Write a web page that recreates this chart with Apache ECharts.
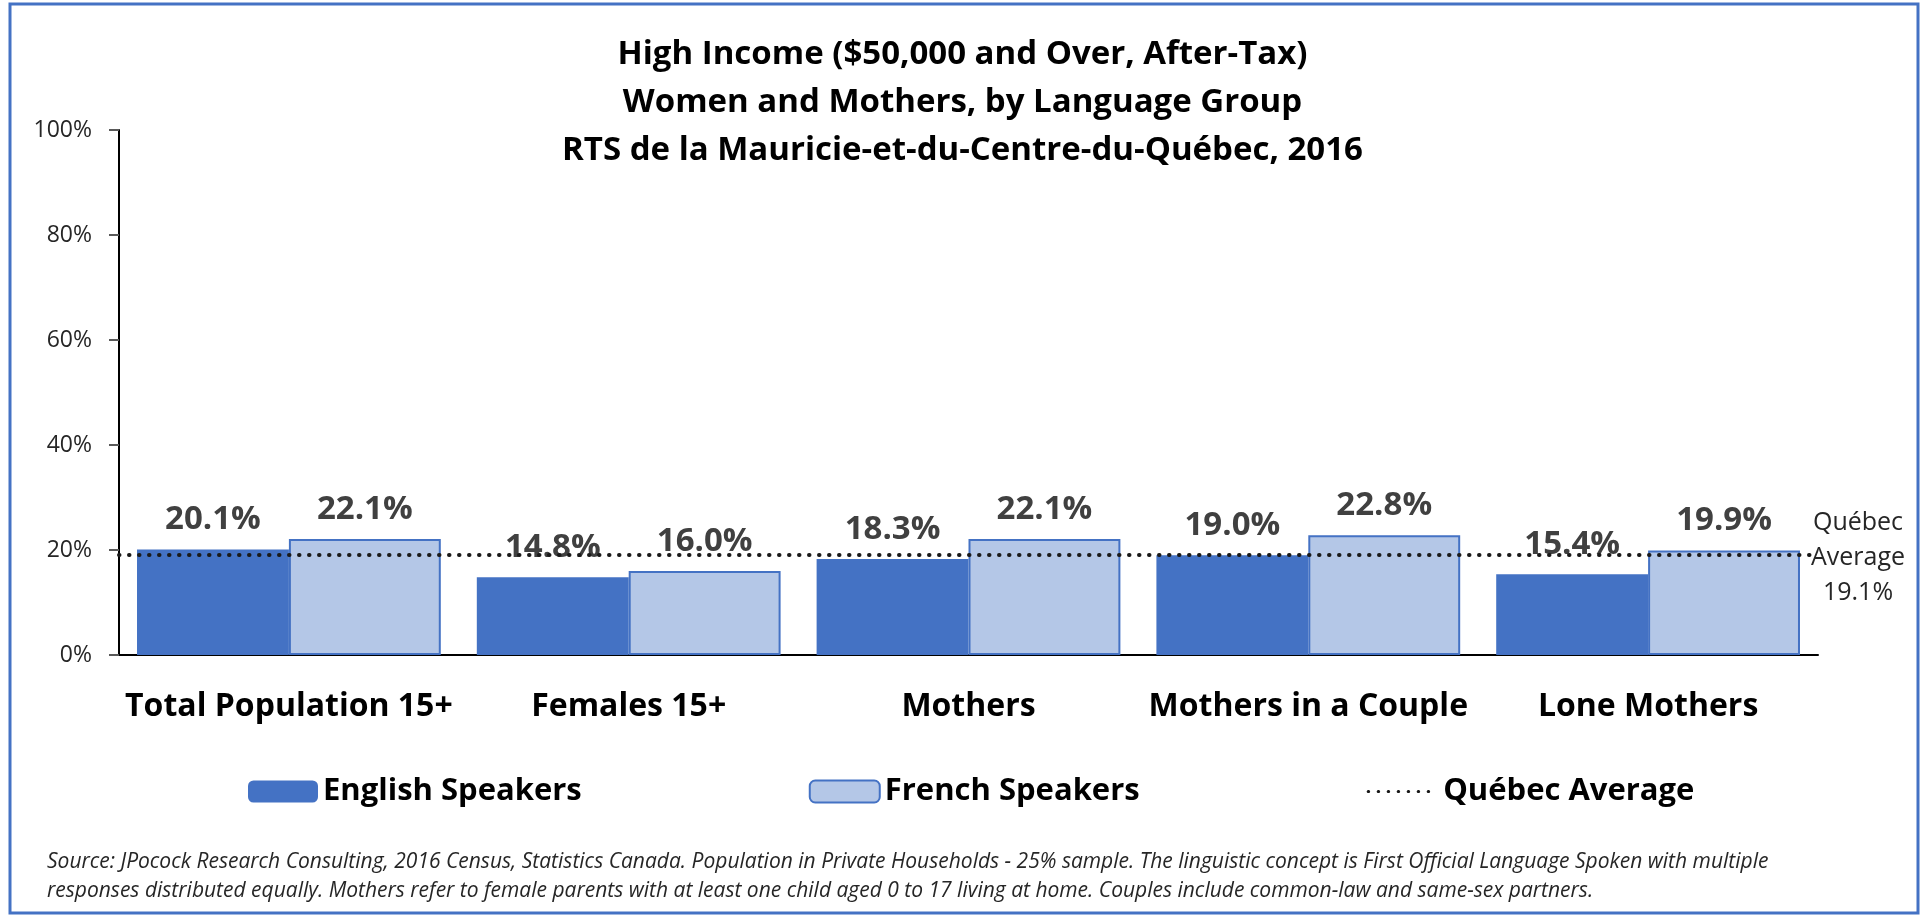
<!DOCTYPE html>
<html>
<head>
<meta charset="utf-8">
<script src="https://cdn.jsdelivr.net/npm/echarts@6/dist/echarts.min.js"></script>
<style>
  html, body { margin: 0; padding: 0; background: #fff; }
  #chart { width: 1925px; height: 916px; }
</style>
</head>
<body>
<div id="chart"></div>
<script>
// ---- data ----
const titleLines = [
  'High Income ($50,000 and Over, After-Tax)',
  'Women and Mothers, by Language Group',
  'RTS de la Mauricie-et-du-Centre-du-Québec, 2016'
];
const categories = ['Total Population 15+', 'Females 15+', 'Mothers', 'Mothers in a Couple', 'Lone Mothers'];
const englishSpeakers = [20.1, 14.8, 18.3, 19.0, 15.4];
const frenchSpeakers = [22.1, 16.0, 22.1, 22.8, 19.9];
const quebecAverage = 19.1;
const seriesNames = ['English Speakers', 'French Speakers', 'Québec Average'];
const yTicks = [0, 20, 40, 60, 80, 100];
const footnote = 'Source: JPocock Research Consulting, 2016 Census, Statistics Canada. Population in Private Households - 25% sample. The linguistic concept is First Official Language Spoken with multiple\nresponses distributed equally. Mothers refer to female parents with at least one child aged 0 to 17 living at home. Couples include common-law and same-sex partners.';

const FONT = '"Open Sans", "Noto Sans", sans-serif';
const chart = echarts.init(document.getElementById('chart'), null, { renderer: 'canvas' });

const barLabel = {
  show: true,
  position: 'top',
  distance: 13,
  color: '#404040',
  fontFamily: FONT,
  fontWeight: 'bold',
  fontSize: 33,
  formatter: p => p.value.toFixed(1) + '%'
};

const dotted = { color: '#1a1a1a', width: 4, type: [0.5, 9.5], cap: 'round' };

chart.setOption({
  animation: false,
  backgroundColor: '#ffffff',
  title: {
    text: titleLines.join('\n'),
    left: 'center',
    top: 26,
    textStyle: {
      fontFamily: FONT,
      fontWeight: 'bold',
      fontSize: 33,
      lineHeight: 48,
      color: '#000000'
    }
  },
  graphic: [
    {
      type: 'rect',
      shape: { x: 10, y: 4, width: 1908, height: 909 },
      style: { fill: 'none', stroke: '#4472C4', lineWidth: 3 },
      silent: true
    },
    {
      type: 'text',
      left: 47,
      top: 848,
      style: {
        text: footnote,
        fontFamily: FONT,
        fontStyle: 'italic',
        fontSize: 21,
        lineHeight: 29,
        fill: '#262626'
      }
    }
  ],
  legend: {
    data: [
      { name: seriesNames[0] },
      { name: seriesNames[1] },
      { name: seriesNames[2], itemStyle: { color: 'rgba(0,0,0,0)', borderWidth: 0 }, lineStyle: { width: 3 } }
    ],
    left: 243,
    top: 771,
    itemWidth: 70,
    itemHeight: 22,
    itemGap: 227,
    textStyle: {
      fontFamily: FONT,
      fontWeight: 'bold',
      fontSize: 31,
      color: '#000000'
    }
  },
  grid: {
    left: 119,
    right: 107,
    top: 130,
    bottom: 261,
    containLabel: false
  },
  xAxis: {
    type: 'category',
    data: categories,
    axisTick: { show: false },
    axisLine: { lineStyle: { color: '#000000', width: 2 } },
    axisLabel: {
      margin: 36,
      fontFamily: FONT,
      fontWeight: 'bold',
      fontSize: 32,
      color: '#000000',
      interval: 0
    }
  },
  yAxis: {
    type: 'value',
    min: yTicks[0],
    max: yTicks[yTicks.length - 1],
    interval: yTicks[1] - yTicks[0],
    splitLine: { show: false },
    axisLine: { show: true, lineStyle: { color: '#000000', width: 2 } },
    axisTick: { show: true, length: 10, lineStyle: { color: '#595959', width: 2 } },
    axisLabel: {
      margin: 27,
      fontFamily: FONT,
      fontSize: 23,
      color: '#262626',
      formatter: '{value}%'
    }
  },
  series: [
    {
      name: seriesNames[0],
      type: 'bar',
      data: englishSpeakers,
      barGap: '0%',
      barCategoryGap: '10.6%',
      itemStyle: { color: '#4472C4' },
      label: barLabel
    },
    {
      name: seriesNames[1],
      type: 'bar',
      data: frenchSpeakers,
      barGap: '0%',
      barCategoryGap: '10.6%',
      itemStyle: { color: '#B4C7E7', borderColor: '#4472C4', borderWidth: 2 },
      label: barLabel
    },
    {
      name: seriesNames[2],
      type: 'line',
      data: [],
      symbol: 'none',
      lineStyle: dotted,
      itemStyle: { color: '#1a1a1a' },
      markLine: {
        silent: true,
        symbol: ['none', 'none'],
        lineStyle: dotted,
        label: {
          show: true,
          position: 'end',
          distance: 40,
          align: 'center',
          offset: [0, 3],
          fontFamily: FONT,
          fontSize: 25,
          lineHeight: 35,
          color: '#262626',
          formatter: p => 'Québec\nAverage\n' + p.value.toFixed(1) + '%'
        },
        data: [{ yAxis: quebecAverage }]
      }
    }
  ]
});
</script>
</body>
</html>
